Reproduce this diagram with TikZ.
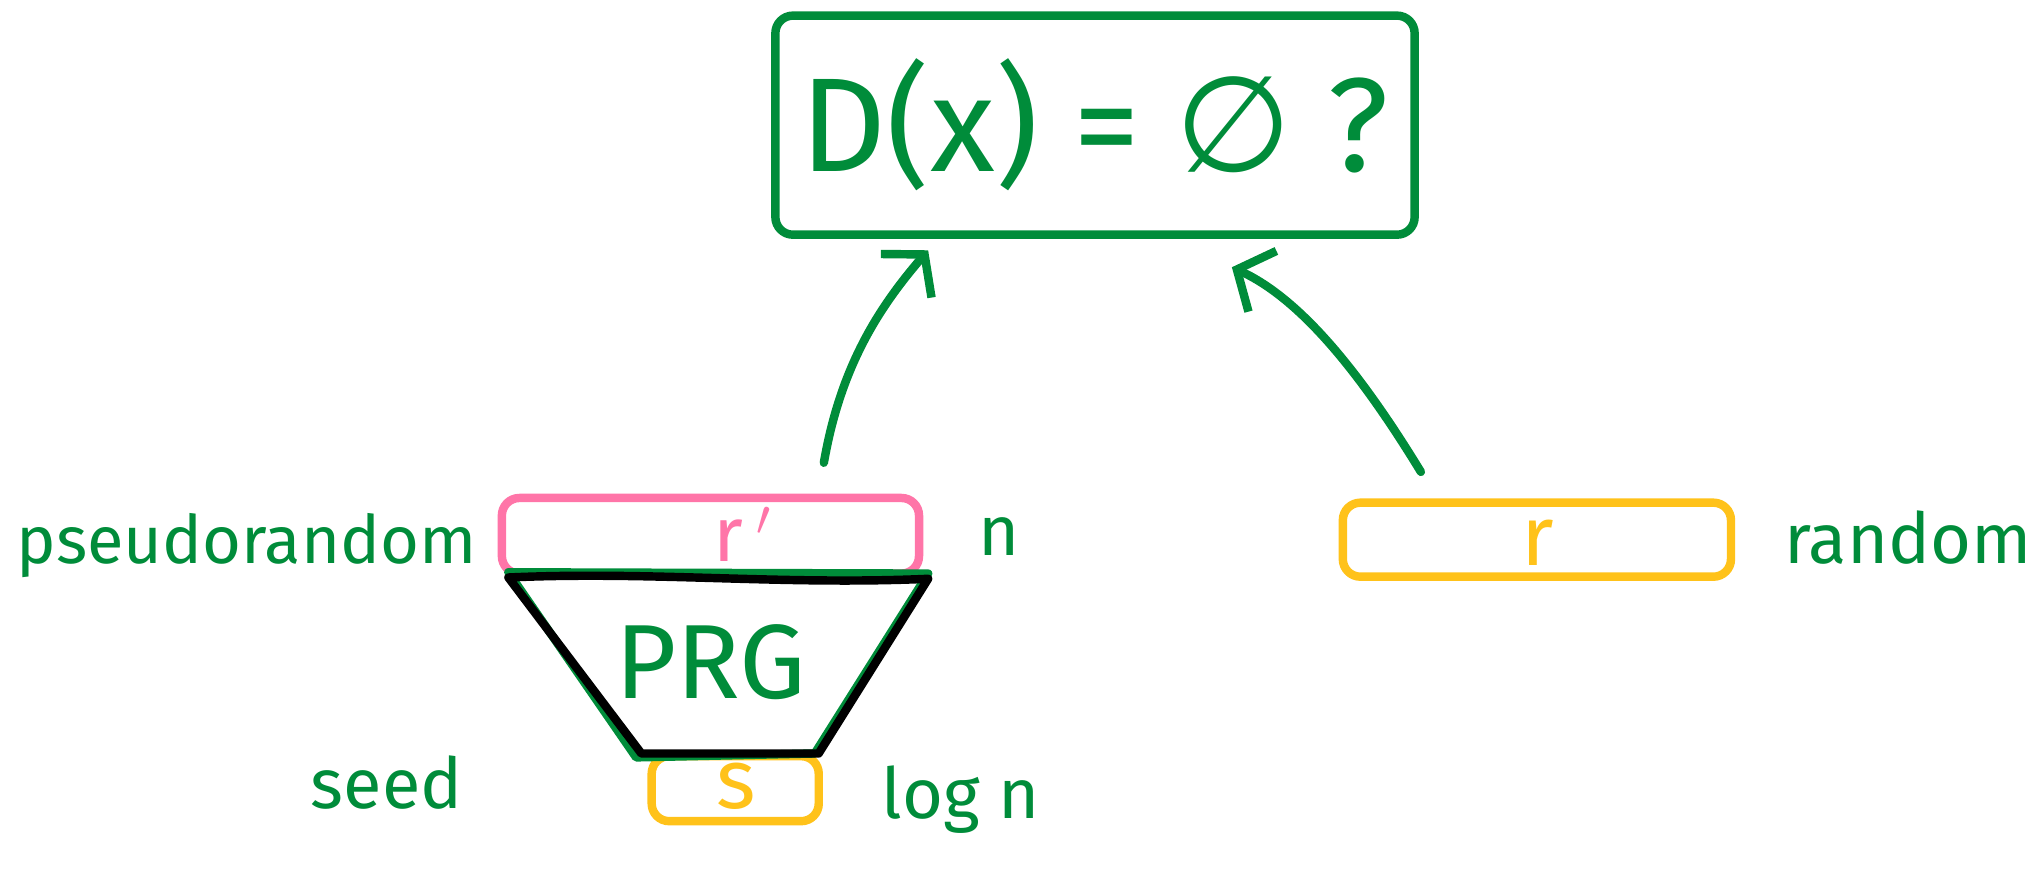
\documentclass[tikz,border=0pt]{standalone}
\usepackage{fontspec}
\setmainfont{Fira Sans}
\newfontfamily\symfont{DejaVu Sans}
\usetikzlibrary{arrows.meta,calc}
\definecolor{pgreen}{RGB}{0,140,58}
\definecolor{ppink}{RGB}{255,117,168}
\definecolor{pyellow}{RGB}{255,194,26}
\begin{document}
\begin{tikzpicture}[x=0.013036cm,y=-0.013036cm, line cap=round, line join=round,
  stroke/.style={line width=2.4pt},
  boxstyle/.style={stroke,rounded corners=5pt,inner sep=0pt},
  lbl/.style={text=pgreen,inner sep=0pt,font=\fontsize{20}{24}\selectfont},
  arr/.style={draw=pgreen,stroke,-{Straight Barb[length=8pt,width=19pt,line width=2.4pt]}}]
\useasboundingbox (0,0) rectangle (1568,672);

% distinguisher box
\node[boxstyle,draw=pgreen,minimum width=6.39cm,minimum height=2.19cm] (D) at (840,96) {};
\node[text=pgreen,inner sep=0pt,font=\fontsize{38}{44}\selectfont] (Dtxt) at (840,96) {D(x) = {\symfont ∅} ?};

% pink output box
\node[boxstyle,draw=ppink,minimum width=4.17cm,minimum height=0.756cm] (rp) at (545,411) {};
\node[text=ppink,inner sep=0pt,font=\fontsize{22}{26}\selectfont] (rptxt) at (570,410) {r\,$'$};

% seed box
\node[boxstyle,draw=pyellow,minimum width=1.67cm,minimum height=0.65cm] (s) at (564,605) {};
\node[text=pyellow,inner sep=0pt,font=\fontsize{24}{28}\selectfont] (stxt) at (565,603) {s};

% random box
\node[boxstyle,draw=pyellow,minimum width=3.88cm,minimum height=0.74cm] (r) at (1179,414) {};
\node[text=pyellow,inner sep=0pt,font=\fontsize{24}{28}\selectfont] (rtxt) at (1180,416) {r};

% PRG trapezoid
\coordinate (tl) at (390,443);
\coordinate (tr) at (712,444);
\coordinate (bl) at (492,578);
\coordinate (br) at (628,578);
\draw[pgreen,stroke] ($(tl)+(0,-4)$) -- ($(tr)+(0,-4)$) -- ($(br)+(-3,0)$) -- ($(bl)+(-4,3)$) -- cycle;
\draw[black,stroke] (tl) .. controls (500,438) and (600,449) .. (tr) -- (br) -- (bl) -- cycle;
\node[text=pgreen,inner sep=0pt,font=\fontsize{30}{34}\selectfont] (prg) at (545,508) {PRG};

% labels
\node[lbl,anchor=base west,font=\fontsize{19}{23}\selectfont] (lp) at (12,432) {pseudorandom};
\node[lbl,anchor=base west] (ln) at (750,426) {n};
\node[lbl,anchor=base west] (lr) at (1368,432) {random};
\node[lbl,anchor=base west] (ls) at (238,620) {seed};
\node[lbl,anchor=base west] (lg) at (676,628) {log n};

% arrows
\coordinate (a1s) at (632,355);
\coordinate (a1e) at (712,192);
\coordinate (a2s) at (1090,362);
\coordinate (a2e) at (945,205);
\draw[arr] (a1s) .. controls (645,280) and (675,235) .. (a1e);
\draw[arr] (a2s) .. controls (1040,280) and (995,228) .. (a2e);
\end{tikzpicture}
\end{document}
